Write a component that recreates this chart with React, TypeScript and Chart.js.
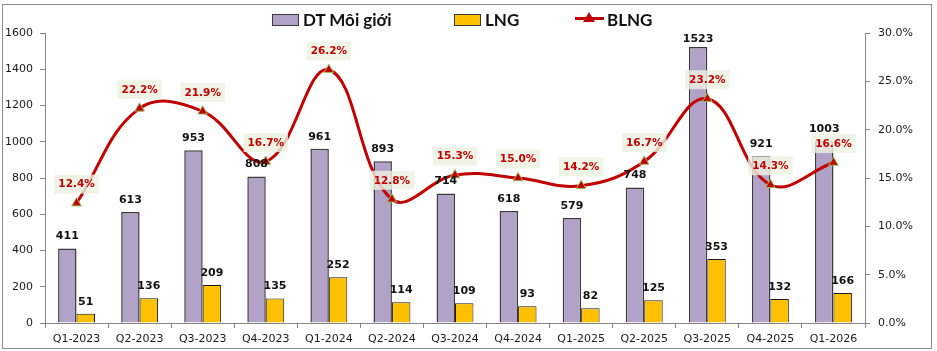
import React, { useEffect, useRef } from "react";
import { Chart, registerables } from "chart.js";

Chart.register(...registerables);

const categories = [
  "Q1-2023", "Q2-2023", "Q3-2023", "Q4-2023", "Q1-2024", "Q2-2024", "Q3-2024",
  "Q4-2024", "Q1-2025", "Q2-2025", "Q3-2025", "Q4-2025", "Q1-2026",
];
const dtMoiGioi = [411, 613, 953, 808, 961, 893, 714, 618, 579, 748, 1523, 921, 1003];
const lng = [51, 136, 209, 135, 252, 114, 109, 93, 82, 125, 353, 132, 166];
const blng = [12.4, 22.2, 21.9, 16.7, 26.2, 12.8, 15.3, 15.0, 14.2, 16.7, 23.2, 14.3, 16.6];

const leftAxis = { min: 0, max: 1600, step: 200 };
const rightAxis = { min: 0, max: 30, step: 5 };

const W = 937;
const H = 351;
const AXIS_COLOR = "#868686";
const TICK_FONT = { family: "'DejaVu Sans', sans-serif", size: 11 };

const labelPlugin = {
  id: "valueLabels",
  afterDatasetsDraw(chart: any) {
    const ctx = chart.ctx;
    ctx.save();
    // bar labels
    [0, 1].forEach((di) => {
      const meta = chart.getDatasetMeta(di);
      const data = chart.data.datasets[di].data as number[];
      ctx.font = "bold 11px 'DejaVu Sans', sans-serif";
      ctx.fillStyle = "#111111";
      ctx.textAlign = "center";
      ctx.textBaseline = "middle";
      meta.data.forEach((el: any, i: number) => {
        const y = Math.max(el.y - 12, chart.chartArea.top + 6);
        ctx.fillText(String(data[i]), el.x, y);
      });
    });
    // line labels
    const meta = chart.getDatasetMeta(2);
    const data = chart.data.datasets[2].data as number[];
    ctx.font = "bold 10.5px 'DejaVu Sans', sans-serif";
    meta.data.forEach((el: any, i: number) => {
      const txt = data[i].toFixed(1) + "%";
      const w = ctx.measureText(txt).width + 8;
      const h = 19;
      const cx = el.x;
      const cy = el.y - 19;
      ctx.fillStyle = "rgba(236,241,224,0.82)";
      ctx.fillRect(cx - w / 2, cy - h / 2, w, h);
      ctx.fillStyle = "#C00000";
      ctx.textAlign = "center";
      ctx.textBaseline = "middle";
      ctx.fillText(txt, cx, cy + 0.5);
    });
    ctx.restore();
  },
};

const framePlugin = {
  id: "frame",
  beforeDraw(chart: any) {
    const ctx = chart.ctx;
    ctx.save();
    ctx.fillStyle = "#ffffff";
    ctx.fillRect(0, 0, chart.width, chart.height);
    ctx.strokeStyle = "#8c8c8c";
    ctx.lineWidth = 1;
    ctx.strokeRect(2.5, 4.5, 929, 344);
    ctx.restore();
  },
};

export default function App() {
  const canvasRef = useRef<HTMLCanvasElement | null>(null);

  useEffect(() => {
    document.body.style.margin = "0";
    const canvas = canvasRef.current;
    if (!canvas) return;
    const chart = new Chart(canvas, {
      type: "bar",
      data: {
        labels: categories,
        datasets: [
          {
            type: "bar",
            label: "DT Môi giới",
            data: dtMoiGioi,
            backgroundColor: "#B3A2C7",
            borderColor: "#3a3a3a",
            borderWidth: 1.5,
            barPercentage: 1,
            categoryPercentage: 0.585,
            yAxisID: "y",
            order: 1,
          },
          {
            type: "bar",
            label: "LNG",
            data: lng,
            backgroundColor: "#FFC000",
            borderColor: "#1a1a1a",
            borderWidth: 1,
            barPercentage: 1,
            categoryPercentage: 0.585,
            yAxisID: "y",
            order: 1,
          },
          {
            type: "line",
            label: "BLNG",
            data: blng,
            borderColor: "#C00000",
            borderWidth: 3,
            tension: 0.4,
            pointStyle: "triangle",
            pointRadius: 5.5,
            pointBackgroundColor: "#C00000",
            pointBorderColor: "#9BBB59",
            pointBorderWidth: 1,
            yAxisID: "y1",
            order: 0,
            clip: false,
          } as any,
        ],
      },
      options: {
        responsive: false,
        animation: false,
        devicePixelRatio: 1,
        layout: { padding: { top: 33, left: 0, right: 0, bottom: 0 } },
        plugins: {
          legend: { display: false },
          tooltip: { enabled: false },
        },
        scales: {
          x: {
            offset: true,
            grid: {
              offset: true,
              drawOnChartArea: false,
              drawTicks: true,
              tickLength: 5,
              color: AXIS_COLOR,
            },
            border: { display: true, color: AXIS_COLOR, width: 1 },
            ticks: { font: TICK_FONT, color: "#1a1a1a", padding: 5, maxRotation: 0, autoSkip: false },
            afterFit: (s: any) => {
              s.height = H - 323;
            },
          },
          y: {
            position: "left",
            min: leftAxis.min,
            max: leftAxis.max,
            grid: { drawOnChartArea: false, drawTicks: true, tickLength: 5, color: AXIS_COLOR },
            border: { display: true, color: AXIS_COLOR, width: 1 },
            ticks: {
              stepSize: leftAxis.step,
              font: TICK_FONT,
              color: "#1a1a1a",
              padding: 7,
              callback: (v: any) => String(v),
            },
            afterFit: (s: any) => {
              s.width = 45;
            },
          },
          y1: {
            position: "right",
            min: rightAxis.min,
            max: rightAxis.max,
            grid: { drawOnChartArea: false, drawTicks: true, tickLength: 5, color: AXIS_COLOR },
            border: { display: true, color: AXIS_COLOR, width: 1 },
            ticks: {
              stepSize: rightAxis.step,
              font: TICK_FONT,
              color: "#1a1a1a",
              padding: 8,
              callback: (v: any) => Number(v).toFixed(1) + "%",
            },
            afterFit: (s: any) => {
              s.width = W - 865;
            },
          },
        },
      },
      plugins: [framePlugin, labelPlugin],
    });
    return () => chart.destroy();
  }, []);

  const legendText: React.CSSProperties = {
    position: "absolute",
    top: 9,
    font: "bold 17px Lato, 'Open Sans', sans-serif",
    color: "#111",
    lineHeight: "22px",
    whiteSpace: "nowrap",
  };
  const box = (left: number, bg: string): React.CSSProperties => ({
    position: "absolute",
    left,
    top: 14,
    width: 27,
    height: 12,
    boxSizing: "border-box",
    background: bg,
    border: "1.5px solid #3a3a3a",
  });

  return (
    <div style={{ position: "relative", width: W, height: H, fontFamily: "Lato, sans-serif" }}>
      <canvas ref={canvasRef} width={W} height={H} style={{ display: "block" }} />
      <div style={box(272, "#B3A2C7")} />
      <div style={{ ...legendText, left: 303 }}>DT Môi giới</div>
      <div style={box(454, "#FFC000")} />
      <div style={{ ...legendText, left: 485 }}>LNG</div>
      <div style={{ position: "absolute", left: 575, top: 17, width: 29, height: 3, background: "#C00000" }} />
      <div
        style={{
          position: "absolute",
          left: 583,
          top: 12,
          width: 0,
          height: 0,
          borderLeft: "6px solid transparent",
          borderRight: "6px solid transparent",
          borderBottom: "10px solid #C00000",
        }}
      />
      <div style={{ ...legendText, left: 607 }}>BLNG</div>
    </div>
  );
}
